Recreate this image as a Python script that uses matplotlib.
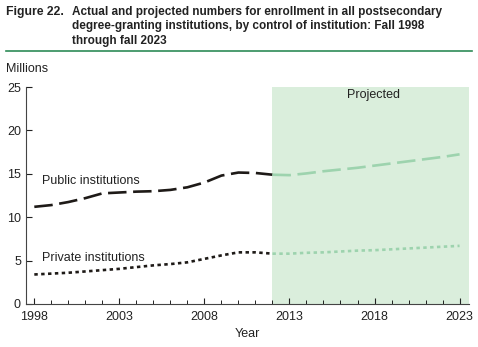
import matplotlib.pyplot as plt
import numpy as np

plt.rcParams['font.family'] = ['Liberation Sans', 'DejaVu Sans']

years_actual = [1998, 1999, 2000, 2001, 2002, 2003, 2004, 2005, 2006, 2007, 2008, 2009, 2010, 2011, 2012]
public_actual = [11.2, 11.4, 11.75, 12.2, 12.75, 12.85, 12.95, 13.0, 13.15, 13.45, 14.0, 14.8, 15.15, 15.1, 14.9]
private_actual = [3.4, 3.5, 3.6, 3.75, 3.9, 4.05, 4.25, 4.45, 4.6, 4.8, 5.2, 5.6, 5.95, 5.95, 5.8]

years_proj = [2012, 2013, 2014, 2015, 2016, 2017, 2018, 2019, 2020, 2021, 2022, 2023]
public_proj = [14.9, 14.85, 15.05, 15.3, 15.5, 15.7, 15.95, 16.2, 16.45, 16.7, 16.95, 17.25]
private_proj = [5.8, 5.8, 5.9, 5.95, 6.05, 6.15, 6.2, 6.3, 6.4, 6.5, 6.6, 6.7]

xticks = [1998, 2003, 2008, 2013, 2018, 2023]
yticks = [0, 5, 10, 15, 20, 25]

dark = '#1e1a17'
green = '#9dd3ae'
shade = '#daeedc'

fig = plt.figure(figsize=(4.78, 3.47), dpi=100)
ax = fig.add_axes([0.054, 0.124, 0.927, 0.625])

ax.axvspan(2012, 2023.55, color=shade, zorder=0, lw=0)

ax.plot(years_actual, public_actual, color=dark, lw=1.9, dashes=(7, 2.5))
ax.plot(years_actual, private_actual, color=dark, lw=1.9, dashes=(1.3, 1.3))
ax.plot(years_proj, public_proj, color=green, lw=1.9, dashes=(7, 2.5))
ax.plot(years_proj, private_proj, color=green, lw=1.9, dashes=(1.3, 1.3))

ax.text(1998.45, 14.2, 'Public institutions', fontsize=9, va='center', color='#222')
ax.text(1998.45, 5.35, 'Private institutions', fontsize=9, va='center', color='#222')
ax.text(2017.95, 24.1, 'Projected', fontsize=9, ha='center', va='center', color='#222')

ax.set_xlim(1997.5, 2023.55)
ax.set_ylim(0, 25)
ax.set_xticks(xticks)
ax.set_xticks(np.arange(1998, 2024), minor=True)
ax.set_yticks(yticks)
ax.tick_params(axis='both', direction='in', labelsize=9, colors='#222', length=4)
ax.tick_params(axis='x', which='minor', direction='in', length=3)
ax.tick_params(axis='x', pad=5)
for s in ['top', 'right']:
    ax.spines[s].set_visible(False)
for s in ['left', 'bottom']:
    ax.spines[s].set_color('#444')

ax.set_xlabel('Year', fontsize=9, color='#222', labelpad=4)

fig.text(0.012, 0.984, 'Figure 22.', fontsize=8.8, fontweight='bold', va='top', color='#222')
fig.text(0.151, 0.984, 'Actual and projected numbers for enrollment in all postsecondary\n'
         'degree-granting institutions, by control of institution: Fall 1998\n'
         'through fall 2023', fontsize=8.5, fontweight='bold', va='top', color='#222',
         linespacing=1.3)
fig.add_artist(plt.Line2D([0.012, 0.988], [0.853, 0.853], color='#2e8b57', lw=1.2))
fig.text(0.013, 0.80, 'Millions', fontsize=9, va='center', color='#222')

fig.savefig('out.png', dpi=100)
